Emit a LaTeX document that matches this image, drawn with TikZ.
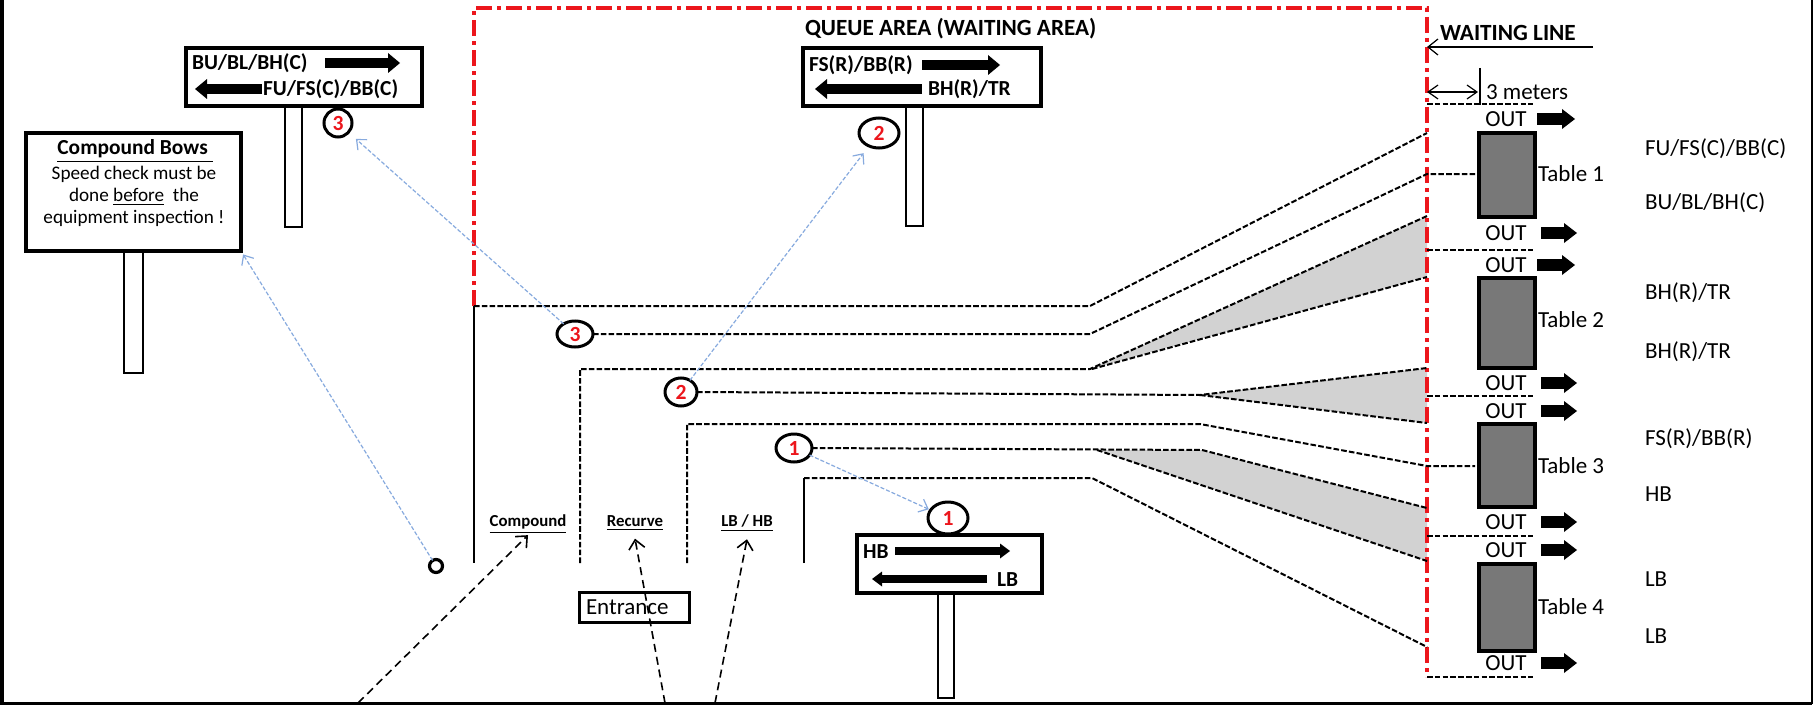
\documentclass[tikz,border=0pt]{standalone}
\usepackage{fontspec}
\setmainfont{Carlito}
\usetikzlibrary{arrows.meta,shapes.geometric}
\definecolor{qred}{RGB}{236,22,28}
\definecolor{qblue}{RGB}{135,170,222}
\definecolor{tablegray}{RGB}{120,120,120}
\definecolor{zonegray}{RGB}{210,210,210}
\newcommand\SgnFont{\fontsize{10.7}{12}\selectfont\bfseries}
\newcommand\LblFont{\fontsize{11.5}{13}\selectfont}
\newcommand\HdFont{\fontsize{11.6}{13}\selectfont\bfseries}
\newcommand\SmFont{\fontsize{8.4}{10}\selectfont\bfseries}
\newcommand\CbFont{\fontsize{9.6}{11}\selectfont}
\newcommand\NumFont{\fontsize{10.8}{12}\selectfont\bfseries}
\begin{document}
\begin{tikzpicture}[x=0.5pt,y=-0.5pt,
 every node/.style={inner sep=0pt,outer sep=0pt},
 dline/.style={line width=1pt,dash pattern=on 2.8pt off 1.1pt},
 wall/.style={line width=1.2pt},
 redzone/.style={draw=qred,line width=2pt,dash pattern=on 8pt off 2.5pt on 2pt off 2.5pt},
 signbox/.style={draw,line width=1.7pt,fill=white,rectangle},
 postbox/.style={draw,line width=0.8pt,fill=white,rectangle},
 numc/.style={draw,ellipse,line width=1.5pt,fill=white,text=qred,font=\NumFont},
 tablebox/.style={draw,line width=1.8pt,fill=tablegray,rectangle,minimum width=28pt},
 outarrow/.style={line width=6pt,-{Triangle[length=6.5pt,width=10pt,line width=0pt]}},
 sgnarrow/.style={line width=5pt,-{Triangle[length=6pt,width=10pt,line width=0pt]}},
 sgnarrowthin/.style={line width=3.8pt,-{Triangle[length=5pt,width=7.5pt,line width=0pt]}},
 bluearr/.style={draw=qblue,line width=0.6pt,dash pattern=on 2pt off 1pt,-{Straight Barb[length=4pt,width=7pt]}},
 entryarr/.style={line width=0.8pt,dash pattern=on 4pt off 2.5pt,-{Straight Barb[length=4.5pt,width=8pt]}},
 lbl/.style={font=\LblFont,anchor=base west},
 sgntxt/.style={font=\SgnFont,anchor=base west},
 outlbl/.style={font=\LblFont,anchor=base},
]
\useasboundingbox (0,0) rectangle (1813,706);

% outer frame
\draw[line width=2pt] (2,0) -- (2,704);
\draw[line width=1.5pt] (0,703.5) -- (1811.5,703.5);
\draw[line width=1pt] (1811.5,0) -- (1811.5,704);

% shaded zones
\fill[zonegray] (1090,369) -- (1427,216) -- (1427,277) -- cycle;
\fill[zonegray] (1200,395) -- (1427,368) -- (1427,423) -- cycle;
\fill[zonegray] (1097,450) -- (1202,450) -- (1427,508) -- (1427,561) -- cycle;

% queue area (red)
\draw[redzone] (474,306) -- (474,8) -- (1427,8) -- (1427,677);
\node[font=\HdFont,anchor=base west] (qtitle) at (805,35.5) {QUEUE AREA (WAITING AREA)};

% walls
\draw[wall] (474,306) -- (474,563);
\draw[wall] (804,563) -- (804,478);

% Compound Bows sign
\node[postbox,minimum width=9.5pt,minimum height=61pt] (cbpost) at (133.5,312) {};
\node[signbox,minimum width=107.5pt,minimum height=59pt] (cbsign) at (133.5,192) {};
\node[font=\SgnFont,anchor=base] (cbt) at (135,155) {\underline{Compound Bows~}};
\node[font=\CbFont,anchor=base] (cb1) at (134,179) {Speed check must be};
\node[font=\CbFont,anchor=base] (cb2) at (134,201) {done \underline{before}~ the};
\node[font=\CbFont,anchor=base] (cb3) at (134,223) {equipment inspection !};

% sign 3
\node[postbox,minimum width=8.5pt,minimum height=60.5pt] (s3post) at (293.5,166.5) {};
\node[signbox,minimum width=118pt,minimum height=29pt] (s3) at (304,77) {};
\node[sgntxt] (s3a) at (192,70) {BU/BL/BH(C)};
\node[sgntxt] (s3b) at (263,96) {FU/FS(C)/BB(C)};
\draw[sgnarrow] (325,63) -- (400,63);
\draw[sgnarrow] (262,89) -- (195,89);
\node[numc,minimum width=14pt,minimum height=14pt] (c3a) at (338,123) {3};

% sign 2
\node[postbox,minimum width=8.5pt,minimum height=60pt] (s2post) at (914.5,166) {};
\node[signbox,minimum width=119pt,minimum height=29pt] (s2) at (922,77) {};
\node[sgntxt] (s2a) at (809,72) {FS(R)/BB(R)};
\node[sgntxt] (s2b) at (928,96) {BH(R)/TR};
\draw[sgnarrow] (922,65) -- (1000,65);
\draw[sgnarrow] (922,89) -- (815,89);
\node[numc,minimum width=20pt,minimum height=15pt] (c2a) at (879,133) {2};

% sign 1
\node[postbox,minimum width=8pt,minimum height=52.5pt] (s1post) at (946,645.5) {};
\node[signbox,minimum width=92.5pt,minimum height=29pt] (s1) at (949.5,564) {};
\node[sgntxt] (s1a) at (863,558) {HB};
\node[sgntxt] (s1b) at (997,586) {LB};
\draw[sgnarrowthin] (895,551) -- (1010,551);
\draw[sgnarrowthin] (987,579) -- (872,579);
\node[numc,minimum width=20pt,minimum height=16pt] (c1b) at (948,518) {1};

% lane circles
\node[numc,minimum width=18pt,minimum height=13pt] (c3b) at (575,334) {3};
\node[numc,minimum width=16pt,minimum height=14pt] (c2b) at (681,392) {2};
\node[numc,minimum width=18pt,minimum height=14pt] (c1a) at (794,448) {1};
\node[circle,draw,line width=1.6pt,minimum size=6.5pt] (smallo) at (436,566) {};

% lane labels
\node[font=\SmFont,anchor=base] (lcomp) at (528,526.5) {\underline{Compound}};
\node[font=\SmFont,anchor=base] (lrec) at (635,526.5) {\underline{Recurve}};
\node[font=\SmFont,anchor=base] (llb) at (747,526.5) {\underline{LB / HB}};

% entrance
\node[draw,line width=1.5pt,rectangle,minimum width=55pt,minimum height=15pt] (entr) at (634,607) {};
\node[font=\LblFont,anchor=west] (entrt) at (586,607) {Entrance};

% dashed lanes
\draw[dline] (474,306) -- (1090,306) -- (1427,133);
\draw[dline] (c3b.east) -- (1090,334) -- (1427,174) -- (1475,174);
\draw[dline] (580,563) -- (580,369) -- (1090,369) -- (1427,216);
\draw[dline] (1092,369) -- (1427,277);
\draw[dline] (c2b.east) -- (1200,395) -- (1427,368);
\draw[dline] (1200,395) -- (1427,423);
\draw[dline] (687,563) -- (687,424) -- (1200,424) -- (1427,466) -- (1475,466);
\draw[dline] (c1a.east) -- (1202,450) -- (1427,508);
\draw[dline] (1097,450) -- (1427,561);
\draw[dline] (804,478) -- (1092,478) -- (1427,647);
\foreach \yy in {104,250,396,536,677} \draw[dline] (1427,\yy) -- (1533,\yy);

% waiting line and 3 meters
\node[font=\HdFont,anchor=base west] (wl) at (1440,40.5) {WAITING LINE};
\coordinate (wlstart) at (1593,47);
\coordinate (wlend) at (1427,47);
\draw[line width=0.6pt,-{Straight Barb[length=5pt,width=8pt]}] (wlstart) -- (wlend);
\coordinate (dimA) at (1427,92);
\coordinate (dimB) at (1478,92);
\draw[line width=0.6pt,{Straight Barb[length=5pt,width=7pt]}-{Straight Barb[length=5pt,width=7pt]}] (dimA) -- (dimB);
\draw[line width=0.8pt] (1480,68) -- (1480,105);
\node[lbl] (meters) at (1486,99) {3 meters};

% tables
\node[tablebox,minimum height=42pt] (t1) at (1507,175) {};
\node[tablebox,minimum height=45pt] (t2) at (1507,323) {};
\node[tablebox,minimum height=41.5pt] (t3) at (1507,465.5) {};
\node[tablebox,minimum height=43.5pt] (t4) at (1507,607.5) {};
\node[lbl] at (1538,181) {Table 1};
\node[lbl] at (1538,327) {Table 2};
\node[lbl] at (1538,473) {Table 3};
\node[lbl] at (1538,614) {Table 4};

% OUT labels and arrows
\foreach \yy/\xa/\xb in {119/1537/1575,233/1541/1577,265/1537/1575,383/1541/1577,411/1541/1577,522/1541/1577,550/1541/1577,663/1541/1577}{
  \node[outlbl] at (1506,\yy+7.5) {OUT};
  \draw[outarrow] (\xa,\yy) -- (\xb,\yy);
}

% right-hand labels
\node[lbl] at (1645,155.5) {FU/FS(C)/BB(C)};
\node[lbl] at (1645,209.5) {BU/BL/BH(C)};
\node[lbl] at (1645,299.5) {BH(R)/TR};
\node[lbl] at (1645,358.5) {BH(R)/TR};
\node[lbl] at (1645,445.5) {FS(R)/BB(R)};
\node[lbl] at (1645,501.5) {HB};
\node[lbl] at (1645,586.5) {LB};
\node[lbl] at (1645,643.5) {LB};

% blue guidance arrows
\draw[bluearr,shorten >=2pt] (smallo) -- (cbsign.south east);
\draw[bluearr,shorten >=5pt] (c3b) -- (c3a);
\draw[bluearr,shorten >=4.5pt] (c2b) -- (c2a);
\draw[bluearr,shorten >=1pt] (c1a) -- (c1b);

% entrance arrows
\coordinate (in1) at (358,703);
\coordinate (in2) at (665,703);
\coordinate (in3) at (715,703);
\draw[entryarr] (in1) -- ([yshift=-1pt]lcomp.south);
\draw[entryarr] (in2) -- ([yshift=-4pt]lrec.south);
\draw[entryarr] (in3) -- ([yshift=-4pt]llb.south);
\end{tikzpicture}
\end{document}
